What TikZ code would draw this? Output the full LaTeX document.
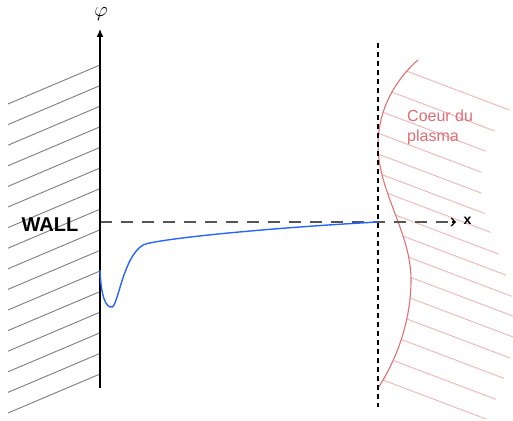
\documentclass[tikz,border=0pt]{standalone}
\usepackage{fontspec}
\setmainfont{Liberation Sans}
\usetikzlibrary{arrows.meta}
\definecolor{wallgray}{RGB}{125,125,125}
\definecolor{curvered}{RGB}{226,112,115}
\definecolor{hatchred}{RGB}{243,178,178}
\definecolor{textred}{RGB}{226,108,113}
\definecolor{potblue}{RGB}{40,100,255}
\definecolor{dashgray}{RGB}{85,85,85}
\tikzset{
  wallhatch/.style={draw=wallgray, line width=0.9pt},
  plasmahatch/.style={draw=hatchred, line width=0.9pt},
  axisline/.style={draw=black, line width=1.2pt},
  refline/.style={draw=dashgray, line width=1.5pt, dash pattern=on 12pt off 9pt},
  sepline/.style={draw=black, line width=1.1pt, dash pattern=on 5pt off 4pt},
  corecurve/.style={draw=curvered, line width=1.1pt},
  potential/.style={draw=potblue, line width=1.4pt},
  coretext/.style={text=textred, font=\fontsize{16}{20}\selectfont, inner sep=0pt, anchor=base west},
}
% plasma boundary, offset by (#1,#2)
\newcommand\plasmaedge[2]{({418+#1},{60+#2}) .. controls ({395+#1},{80+#2}) and ({378+#1},{110+#2}) .. ({378+#1},{145+#2})
  .. controls ({378+#1},{192+#2}) and ({411+#1},{232+#2}) .. ({411+#1},{280+#2})
  .. controls ({411+#1},{330+#2}) and ({390+#1},{370+#2}) .. ({378+#1},{388+#2})}
\newcommand\plasmaedgerev[2]{({378+#1},{388+#2}) .. controls ({390+#1},{370+#2}) and ({411+#1},{330+#2}) .. ({411+#1},{280+#2})
  .. controls ({411+#1},{232+#2}) and ({378+#1},{192+#2}) .. ({378+#1},{145+#2})
  .. controls ({378+#1},{110+#2}) and ({395+#1},{80+#2}) .. ({418+#1},{60+#2})}
\begin{document}
\begin{tikzpicture}[x=1pt,y=-1pt]
\useasboundingbox (0,0) rectangle (513,420);
\begin{scope}
  \clip (0,0) rectangle (513,420);
  % wall hatching
  \foreach \k in {0,...,15} {
    \draw[wallhatch] (8,{104+20.6*\k}) -- (100,{65+20.6*\k});
  }
\end{scope}
% plasma hatching, bounded by the edge and its copy shifted along the hatch direction
\begin{scope}
  \clip (0,0) rectangle (513,420);
  \clip \plasmaedge{0}{0} -- \plasmaedgerev{103}{39} -- cycle;
  \foreach \px/\py in {409/72, 393/92.5, 385/113, 379/133.5, 378/154, 383/175, 392/195, 398/216,
                       404/236.5, 408/257, 411/277.5, 410/298, 407/319, 400/339, 392/360, 383/380} {
    \draw[plasmahatch] ({\px-40},{\py-40*39/103}) -- ++({103+80},{39+80*39/103});
  }
\end{scope}
\draw[corecurve] \plasmaedge{0}{0};
% separatrix dashed line
\coordinate (septop) at (378,43);
\coordinate (sepbot) at (378,407);
\draw[sepline] (septop) -- (sepbot);
% reference dashed line (x axis)
\coordinate (xstart) at (100,222);
\coordinate (xend) at (456,222);
\draw[refline] (xstart) -- (xend);
\draw[line width=1.2pt, -{Straight Barb[length=4pt,width=8pt]}] (452,222) -- (xend);
\node[font=\fontsize{14}{14}\selectfont\bfseries, inner sep=0pt] (xlab) at (467.5,221) {x};
% potential axis
\coordinate (axbot) at (100,388);
\coordinate (axtop) at (100,29);
\draw[axisline, -{Latex[length=8pt,width=7pt]}] (axbot) -- (axtop);
\node[inner sep=0pt, font=\fontsize{22}{22}\selectfont] (phi) at (101,14) {$\varphi$};
% potential curve
\draw[potential] (100,270) .. controls (101,297) and (106,308) .. (112,307)
  .. controls (118,306) and (123,257) .. (143,245)
  .. controls (152,240) and (250,229) .. (378,222);
% labels
\node[font=\fontsize{20}{20}\selectfont\bfseries, inner sep=0pt, anchor=base] (wall) at (50,231) {WALL};
\node[coretext] (core1) at (407,121) {Coeur du};
\node[coretext] (core2) at (407,141) {plasma};
\end{tikzpicture}
\end{document}
